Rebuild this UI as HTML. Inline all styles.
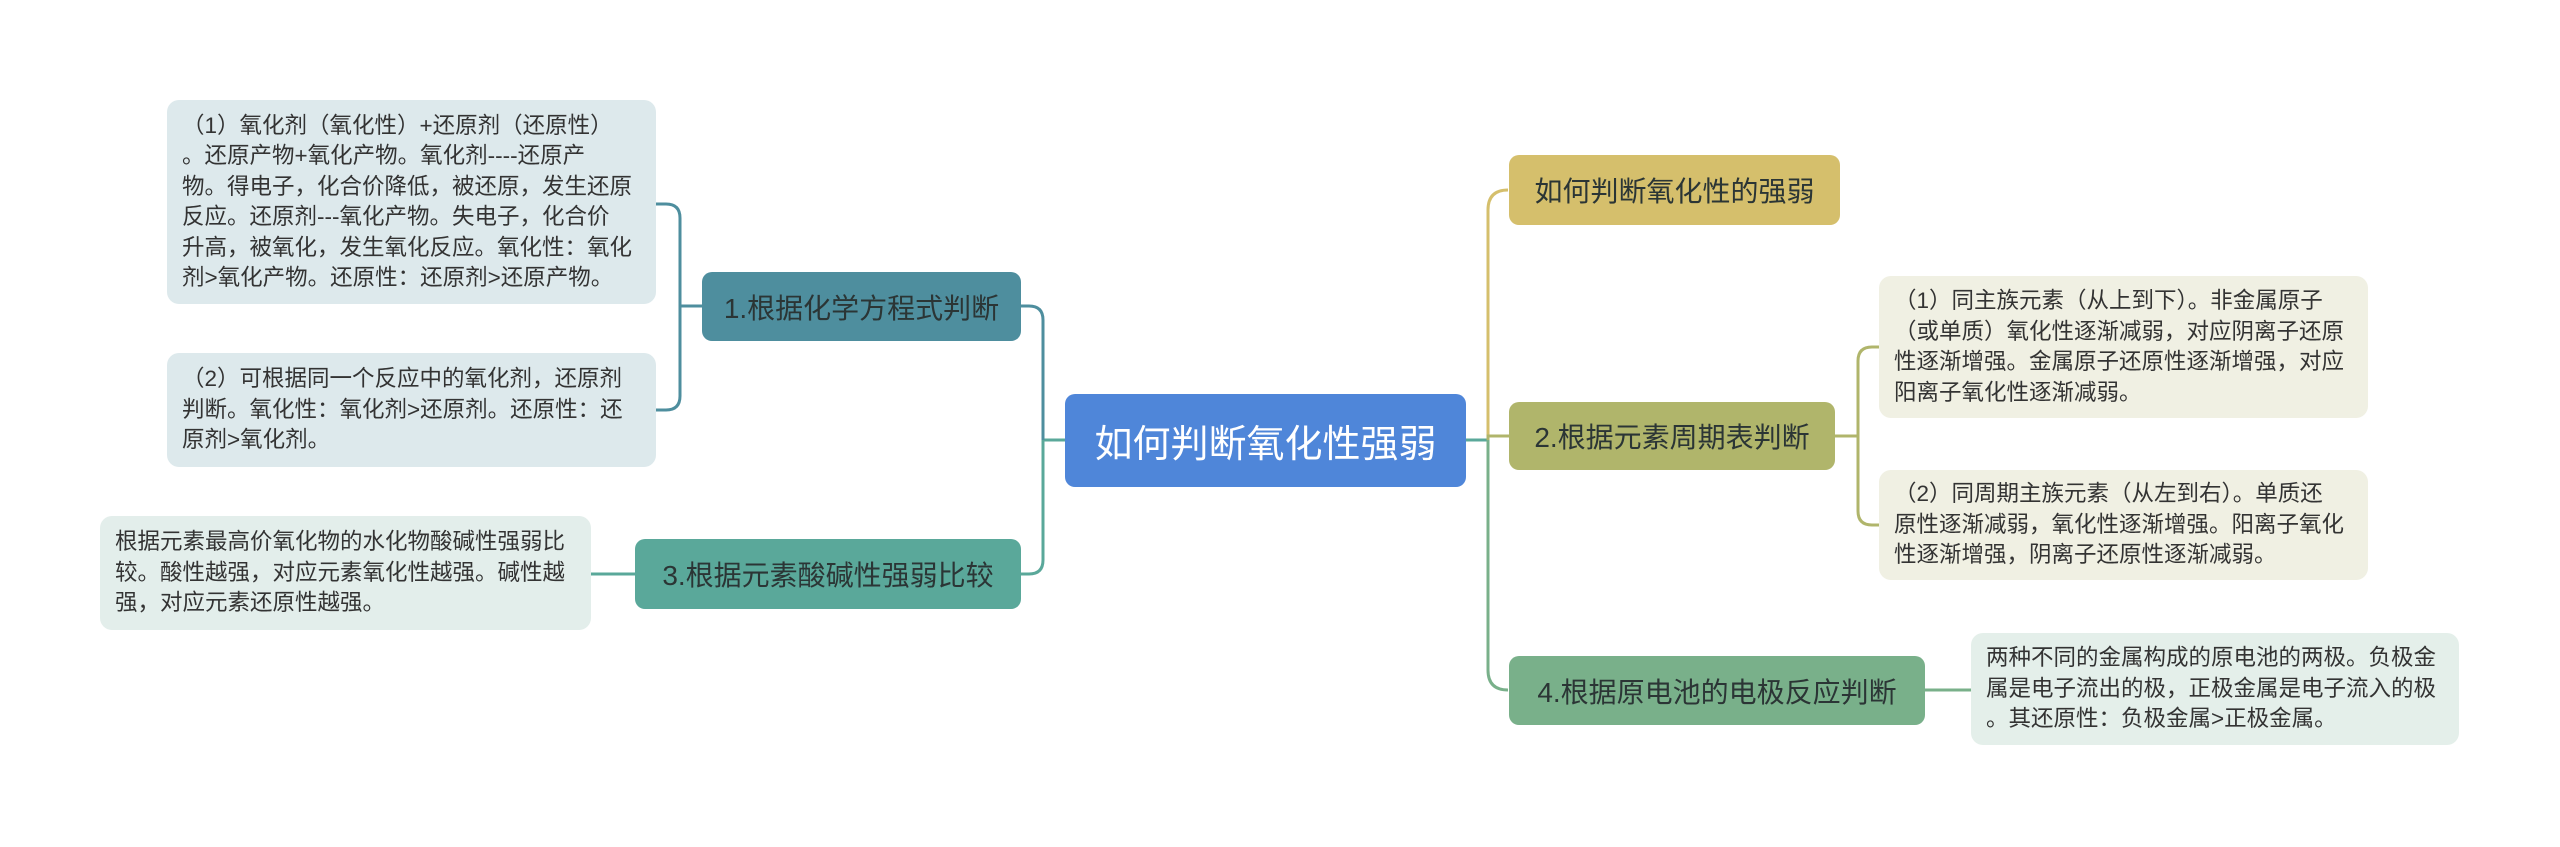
<!DOCTYPE html>
<html><head><meta charset="utf-8"><style>
body{margin:0;width:2560px;height:847px;background:#fff;position:relative;overflow:hidden;font-family:"Liberation Sans","Noto Sans CJK SC",sans-serif;}
.b{position:absolute;box-sizing:border-box;border-radius:12px;display:flex;align-items:center;}
.n{justify-content:center;font-size:28px;color:#2b3535;white-space:nowrap;border-radius:10px;}
.l{font-size:22.5px;line-height:30.5px;color:#333;padding:0 15px;white-space:nowrap;}
</style></head><body>
<svg width="2560" height="847" style="position:absolute;left:0;top:0" fill="none" stroke-width="3">
<path d="M1466 440 H1488" stroke="#5aa89a"/>
<path d="M1488 440 V210 Q1488 190 1508 190" stroke="#d5bf6c"/>
<path d="M1488 440 V436 H1509" stroke="#b0b56b"/>
<path d="M1488 440 V670 Q1488 690 1508 690" stroke="#79b08a"/>
<path d="M1065 440 H1043" stroke="#5aa89a"/>
<path d="M1043 440 V320 Q1043 306 1029 306 H1021" stroke="#4e8e9e"/>
<path d="M1043 440 V560 Q1043 574 1029 574 H1021" stroke="#5aa89a"/>
<path d="M702 306 H680" stroke="#4e8e9e"/>
<path d="M680 306 V218 Q680 204 666 204 H656" stroke="#4e8e9e"/>
<path d="M680 306 V396 Q680 410 666 410 H656" stroke="#4e8e9e"/>
<path d="M635 574 H591" stroke="#5aa89a"/>
<path d="M1835 436 H1858" stroke="#b0b56b"/>
<path d="M1858 436 V361 Q1858 347 1872 347 H1879" stroke="#b0b56b"/>
<path d="M1858 436 V511 Q1858 525 1872 525 H1879" stroke="#b0b56b"/>
<path d="M1925 690 H1971" stroke="#79b08a"/>
</svg>
<div class="b n" style="left:1065px;top:394px;width:401px;height:93px;background:#4f86d9;color:#fff;font-size:38px;">如何判断氧化性强弱</div>
<div class="b n" style="left:702px;top:272px;width:319px;height:69px;background:#4e8e9e;">1.根据化学方程式判断</div>
<div class="b n" style="left:635px;top:539px;width:386px;height:70px;background:#5aa89a;">3.根据元素酸碱性强弱比较</div>
<div class="b n" style="left:1509px;top:155px;width:331px;height:70px;background:#d5bf6c;">如何判断氧化性的强弱</div>
<div class="b n" style="left:1509px;top:402px;width:326px;height:68px;background:#b0b56b;">2.根据元素周期表判断</div>
<div class="b n" style="left:1509px;top:656px;width:416px;height:69px;background:#79b08a;">4.根据原电池的电极反应判断</div>
<div class="b l" style="left:167px;top:100px;width:489px;height:204px;background:#dde9ec;"><div>（1）氧化剂（氧化性）+还原剂（还原性）<br>。还原产物+氧化产物。氧化剂----还原产<br>物。得电子，化合价降低，被还原，发生还原<br>反应。还原剂---氧化产物。失电子，化合价<br>升高，被氧化，发生氧化反应。氧化性：氧化<br>剂&gt;氧化产物。还原性：还原剂&gt;还原产物。</div></div>
<div class="b l" style="left:167px;top:353px;width:489px;height:114px;background:#dde9ec;"><div>（2）可根据同一个反应中的氧化剂，还原剂<br>判断。氧化性：氧化剂&gt;还原剂。还原性：还<br>原剂&gt;氧化剂。</div></div>
<div class="b l" style="left:100px;top:516px;width:491px;height:114px;background:#e3eeeb;"><div>根据元素最高价氧化物的水化物酸碱性强弱比<br>较。酸性越强，对应元素氧化性越强。碱性越<br>强，对应元素还原性越强。</div></div>
<div class="b l" style="left:1879px;top:276px;width:489px;height:142px;background:#f0f0e3;"><div>（1）同主族元素（从上到下）。非金属原子<br>（或单质）氧化性逐渐减弱，对应阴离子还原<br>性逐渐增强。金属原子还原性逐渐增强，对应<br>阳离子氧化性逐渐减弱。</div></div>
<div class="b l" style="left:1879px;top:470px;width:489px;height:110px;background:#f0f0e3;"><div>（2）同周期主族元素（从左到右）。单质还<br>原性逐渐减弱，氧化性逐渐增强。阳离子氧化<br>性逐渐增强，阴离子还原性逐渐减弱。</div></div>
<div class="b l" style="left:1971px;top:633px;width:488px;height:112px;background:#e4efea;"><div>两种不同的金属构成的原电池的两极。负极金<br>属是电子流出的极，正极金属是电子流入的极<br>。其还原性：负极金属&gt;正极金属。</div></div>
</body></html>
